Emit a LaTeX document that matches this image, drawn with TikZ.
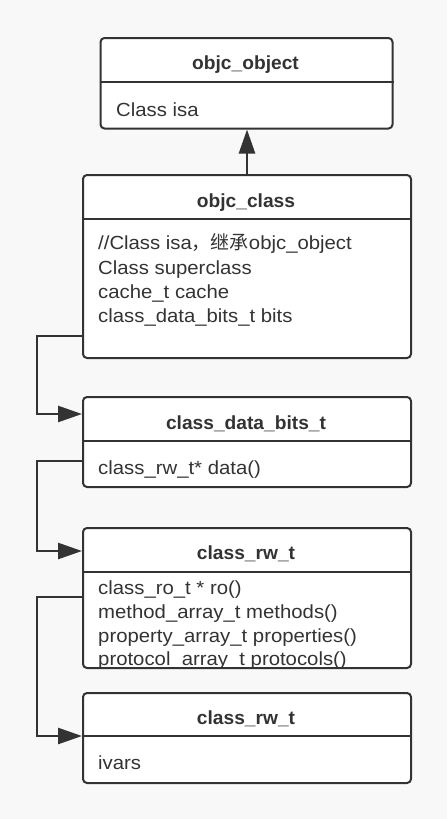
\documentclass[tikz,border=0pt]{standalone}
\usepackage{fontspec}
\setmainfont{Liberation Sans}[FakeStretch=1.07]
\newfontfamily\titlefont{Liberation Sans}[FakeStretch=1.01]
\newfontfamily\cjk{Noto Sans CJK SC}
\usetikzlibrary{arrows.meta,calc}
\definecolor{ink}{HTML}{333333}
\definecolor{bg}{HTML}{F8F8F8}
\begin{document}
\begin{tikzpicture}[x=1pt,y=-1pt,
  box/.style={draw=ink, line width=2pt, fill=white, rounded corners=4pt, inner sep=0pt, anchor=north west},
  divider/.style={draw=ink, line width=2pt},
  title/.style={font=\titlefont\fontsize{19}{24}\selectfont\bfseries, text=ink, inner sep=0pt, anchor=base},
  field/.style={font=\fontsize{19}{24}\selectfont, text=ink, inner sep=0pt, anchor=base west},
  conn/.style={draw=ink, line width=2.5pt, -{Triangle[length=24pt,width=16pt]}},
]
\path[use as bounding box, fill=bg] (0,0) rectangle (447,819);

% boxes
\node[box, minimum width=292pt, minimum height=90.5pt] (obj) at (99.5,37) {};
\node[box, minimum width=328pt, minimum height=183pt] (cls) at (82,174) {};
\node[box, minimum width=328pt, minimum height=90pt] (bits) at (82,396) {};
\node[box, minimum width=328pt, minimum height=140pt] (rw) at (82,527) {};
\node[box, minimum width=328pt, minimum height=90pt] (ro) at (82,692) {};

% dividers
\draw[divider] (obj.west |- 0,82) -- (obj.east |- 0,82);
\draw[divider] (cls.west |- 0,219) -- (cls.east |- 0,219);
\draw[divider] (bits.west |- 0,441) -- (bits.east |- 0,441);
\draw[divider] (rw.west |- 0,572) -- (rw.east |- 0,572);
\draw[divider] (ro.west |- 0,736) -- (ro.east |- 0,736);

% titles
\node[title] (t1) at (245.5,69) {objc\_object};
\node[title] (t2) at (246,207) {objc\_class};
\node[title] (t3) at (246,429) {class\_data\_bits\_t};
\node[title] (t4) at (246,559) {class\_rw\_t};
\node[title] (t5) at (246,724) {class\_rw\_t};

% fields
\node[field] (f11) at (116,116) {Class isa};
\node[field] (f21) at (98,249) {//Class isa{\cjk ，继承}objc\_object};
\node[field] (f22) at (98,274) {Class superclass};
\node[field] (f23) at (98,298) {cache\_t cache};
\node[field] (f24) at (98,322) {class\_data\_bits\_t bits};
\node[field] (f31) at (98,474) {class\_rw\_t* data()};
\node[field] (f41) at (98,594) {class\_ro\_t * ro()};
\node[field] (f42) at (98,618) {method\_array\_t methods()};
\node[field] (f43) at (98,642) {property\_array\_t properties()};
\node[field] (f44) at (98,665) {protocol\_array\_t protocols()};
\node[field] (f51) at (98,769) {ivars};

% connectors
\draw[conn] (cls.north) -- (cls.north |- obj.south);
\draw[conn] ([yshift=23pt]cls.south west) -- ++(-45,0) |- ([yshift=-18pt]bits.north west);
\draw[conn] ([yshift=-65pt]bits.north west) -- ++(-45,0) |- ([yshift=-24pt]rw.north west);
\draw[conn] ([yshift=-70pt]rw.north west) -- ++(-45,0) |- ([yshift=-44pt]ro.north west);
\end{tikzpicture}
\end{document}
